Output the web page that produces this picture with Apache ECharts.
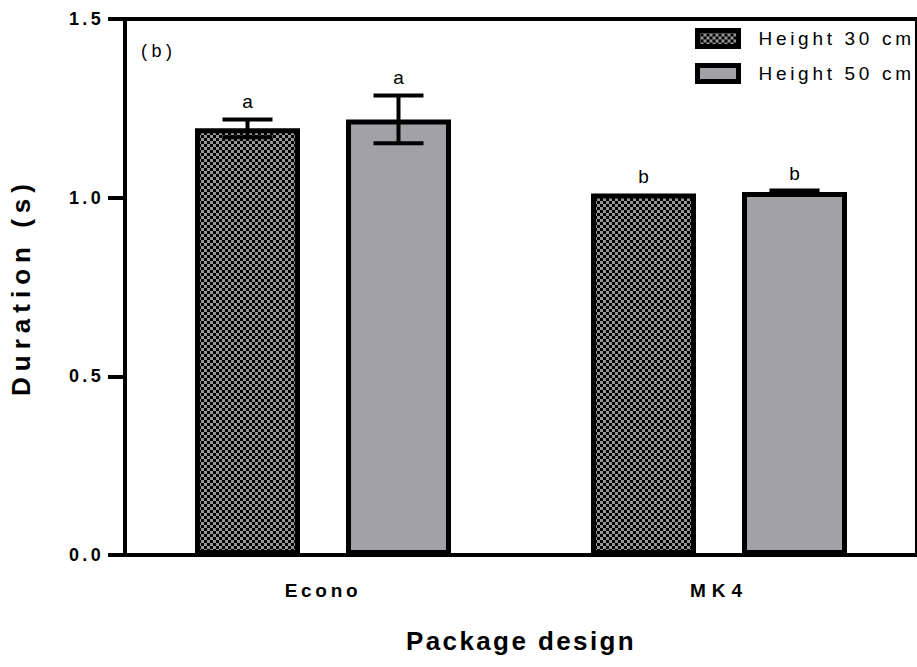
<!DOCTYPE html>
<html><head><meta charset="utf-8">
<script src="https://cdn.jsdelivr.net/npm/echarts@6/dist/echarts.min.js"></script>
<style>html,body{margin:0;padding:0;background:#fff}#c{width:917px;height:667px}</style>
</head><body><div id="c"></div>
<script>
// ---- data ----
const categories = ['Econo', 'MK4'];
const seriesNames = ['Height 30 cm', 'Height 50 cm'];
const mean30 = [1.194, 1.012];
const err30 = [0.025, 0.0];
const mean50 = [1.219, 1.016];
const err50 = [0.067, 0.004];
const letters30 = ['a', 'b'];
const letters50 = ['a', 'b'];
const yTicks = [0.0, 0.5, 1.0, 1.5];
const panelLabel = '(b)';
const xTitle = 'Package design';
const yTitle = 'Duration (s)';

// ---- styles ----
const FONT = 'Arial, "Liberation Sans", sans-serif';
const pc = document.createElement('canvas'); pc.width = 6; pc.height = 6;
const g = pc.getContext('2d');
g.fillStyle = '#969696'; g.fillRect(0, 0, 6, 6);
g.fillStyle = '#000'; g.fillRect(0, 0, 3, 3); g.fillRect(3, 3, 3, 3);
const checker = { image: pc, repeat: 'repeat' };
const BAR_W = 105, BAR_GAP = 46;
const OFF = (BAR_W + BAR_GAP) / 2;

function errRender(offset, letters) {
  return function (params, api) {
    const cat = api.value(0), m = api.value(1), e = api.value(2);
    const top = api.coord([cat, m + e]);
    const bot = api.coord([cat, m - e]);
    const x = top[0] + offset;
    const cap = 25;
    const ls = { stroke: '#000', lineWidth: 4 };
    const children = [];
    if (e > 0) {
      children.push({ type: 'line', shape: { x1: x, y1: top[1], x2: x, y2: bot[1] }, style: ls });
      children.push({ type: 'line', shape: { x1: x - cap, y1: top[1], x2: x + cap, y2: top[1] }, style: ls });
      children.push({ type: 'line', shape: { x1: x - cap, y1: bot[1], x2: x + cap, y2: bot[1] }, style: ls });
    }
    children.push({ type: 'text', style: {
      text: letters[params.dataIndex], x: x, y: top[1] - (e > 0 ? 8 : 7),
      align: 'center', verticalAlign: 'bottom', font: '19px ' + FONT, fill: '#000' } });
    return { type: 'group', children: children };
  };
}

const chart = echarts.init(document.getElementById('c'), null, { renderer: 'svg' });
chart.setOption({
  animation: false,
  backgroundColor: '#fff',
  grid: { left: 125, top: 19, width: 801, height: 536, show: true, borderColor: '#000', borderWidth: 4, backgroundColor: 'transparent' },
  legend: {
    data: seriesNames, orient: 'vertical', left: 695, top: 28, padding: 0,
    itemWidth: 41, itemHeight: 16, itemGap: 14, icon: 'rect', selectedMode: false,
    itemStyle: { borderColor: '#000', borderWidth: 5 },
    textStyle: { fontSize: 19, fontFamily: FONT, color: '#000', padding: [0, 0, 0, 15] }
  },
  xAxis: {
    type: 'category', data: categories,
    axisLine: { lineStyle: { color: '#000', width: 4 } },
    axisTick: { alignWithLabel: true, length: 17, lineStyle: { color: '#000', width: 4 } },
    axisLabel: { fontSize: 19, fontWeight: 'bold', fontFamily: FONT, color: '#000', margin: 26 },
    name: xTitle, nameLocation: 'middle', nameGap: 73,
    nameTextStyle: { fontSize: 26, fontWeight: 'bold', fontFamily: FONT, color: '#000' }
  },
  yAxis: {
    type: 'value', min: yTicks[0], max: yTicks[yTicks.length - 1], interval: yTicks[1] - yTicks[0],
    axisLine: { show: true, lineStyle: { color: '#000', width: 4 } },
    axisTick: { show: true, length: 17, lineStyle: { color: '#000', width: 4 } },
    splitLine: { show: false },
    axisLabel: { fontSize: 18, fontWeight: 'bold', fontFamily: FONT, color: '#000', margin: 21,
      formatter: v => v.toFixed(1) },
    name: yTitle, nameLocation: 'middle', nameGap: 91,
    nameTextStyle: { fontSize: 26, fontWeight: 'bold', fontFamily: FONT, color: '#000' }
  },
  graphic: [{ type: 'text', left: 141, top: 42, style: { text: panelLabel, font: '18px ' + FONT, fill: '#000' } }],
  series: [
    { type: 'bar', name: seriesNames[0], data: mean30, barWidth: BAR_W, barGap: (BAR_GAP / BAR_W * 100) + '%',
      itemStyle: { color: checker, borderColor: '#000', borderWidth: 5 } },
    { type: 'bar', name: seriesNames[1], data: mean50, barWidth: BAR_W,
      itemStyle: { color: '#a1a1a6', borderColor: '#000', borderWidth: 5 } },
    { type: 'custom', name: 'err30', coordinateSystem: 'cartesian2d', z: 5,
      data: categories.map((c, i) => [i, mean30[i], err30[i]]), encode: { x: 0, y: 1 },
      renderItem: errRender(-OFF, letters30) },
    { type: 'custom', name: 'err50', coordinateSystem: 'cartesian2d', z: 5,
      data: categories.map((c, i) => [i, mean50[i], err50[i]]), encode: { x: 0, y: 1 },
      renderItem: errRender(OFF, letters50) }
  ]
});

const spacing = { 'Package design': 2.4, 'Duration (s)': 6, 'Econo': 3.7, 'MK4': 6,
  '0.0': 3.3, '0.5': 3.3, '1.0': 3.3, '1.5': 3.3, 'Height 30 cm': 3.7, 'Height 50 cm': 3.7, '(b)': 4.5 };
function applySpacing() {
  document.querySelectorAll('#c text').forEach(t => {
    const s = spacing[t.textContent.trim()];
    if (s != null) t.style.letterSpacing = s + 'px';
  });
}
applySpacing();
chart.on('finished', applySpacing);
setTimeout(applySpacing, 50);
</script></body></html>
